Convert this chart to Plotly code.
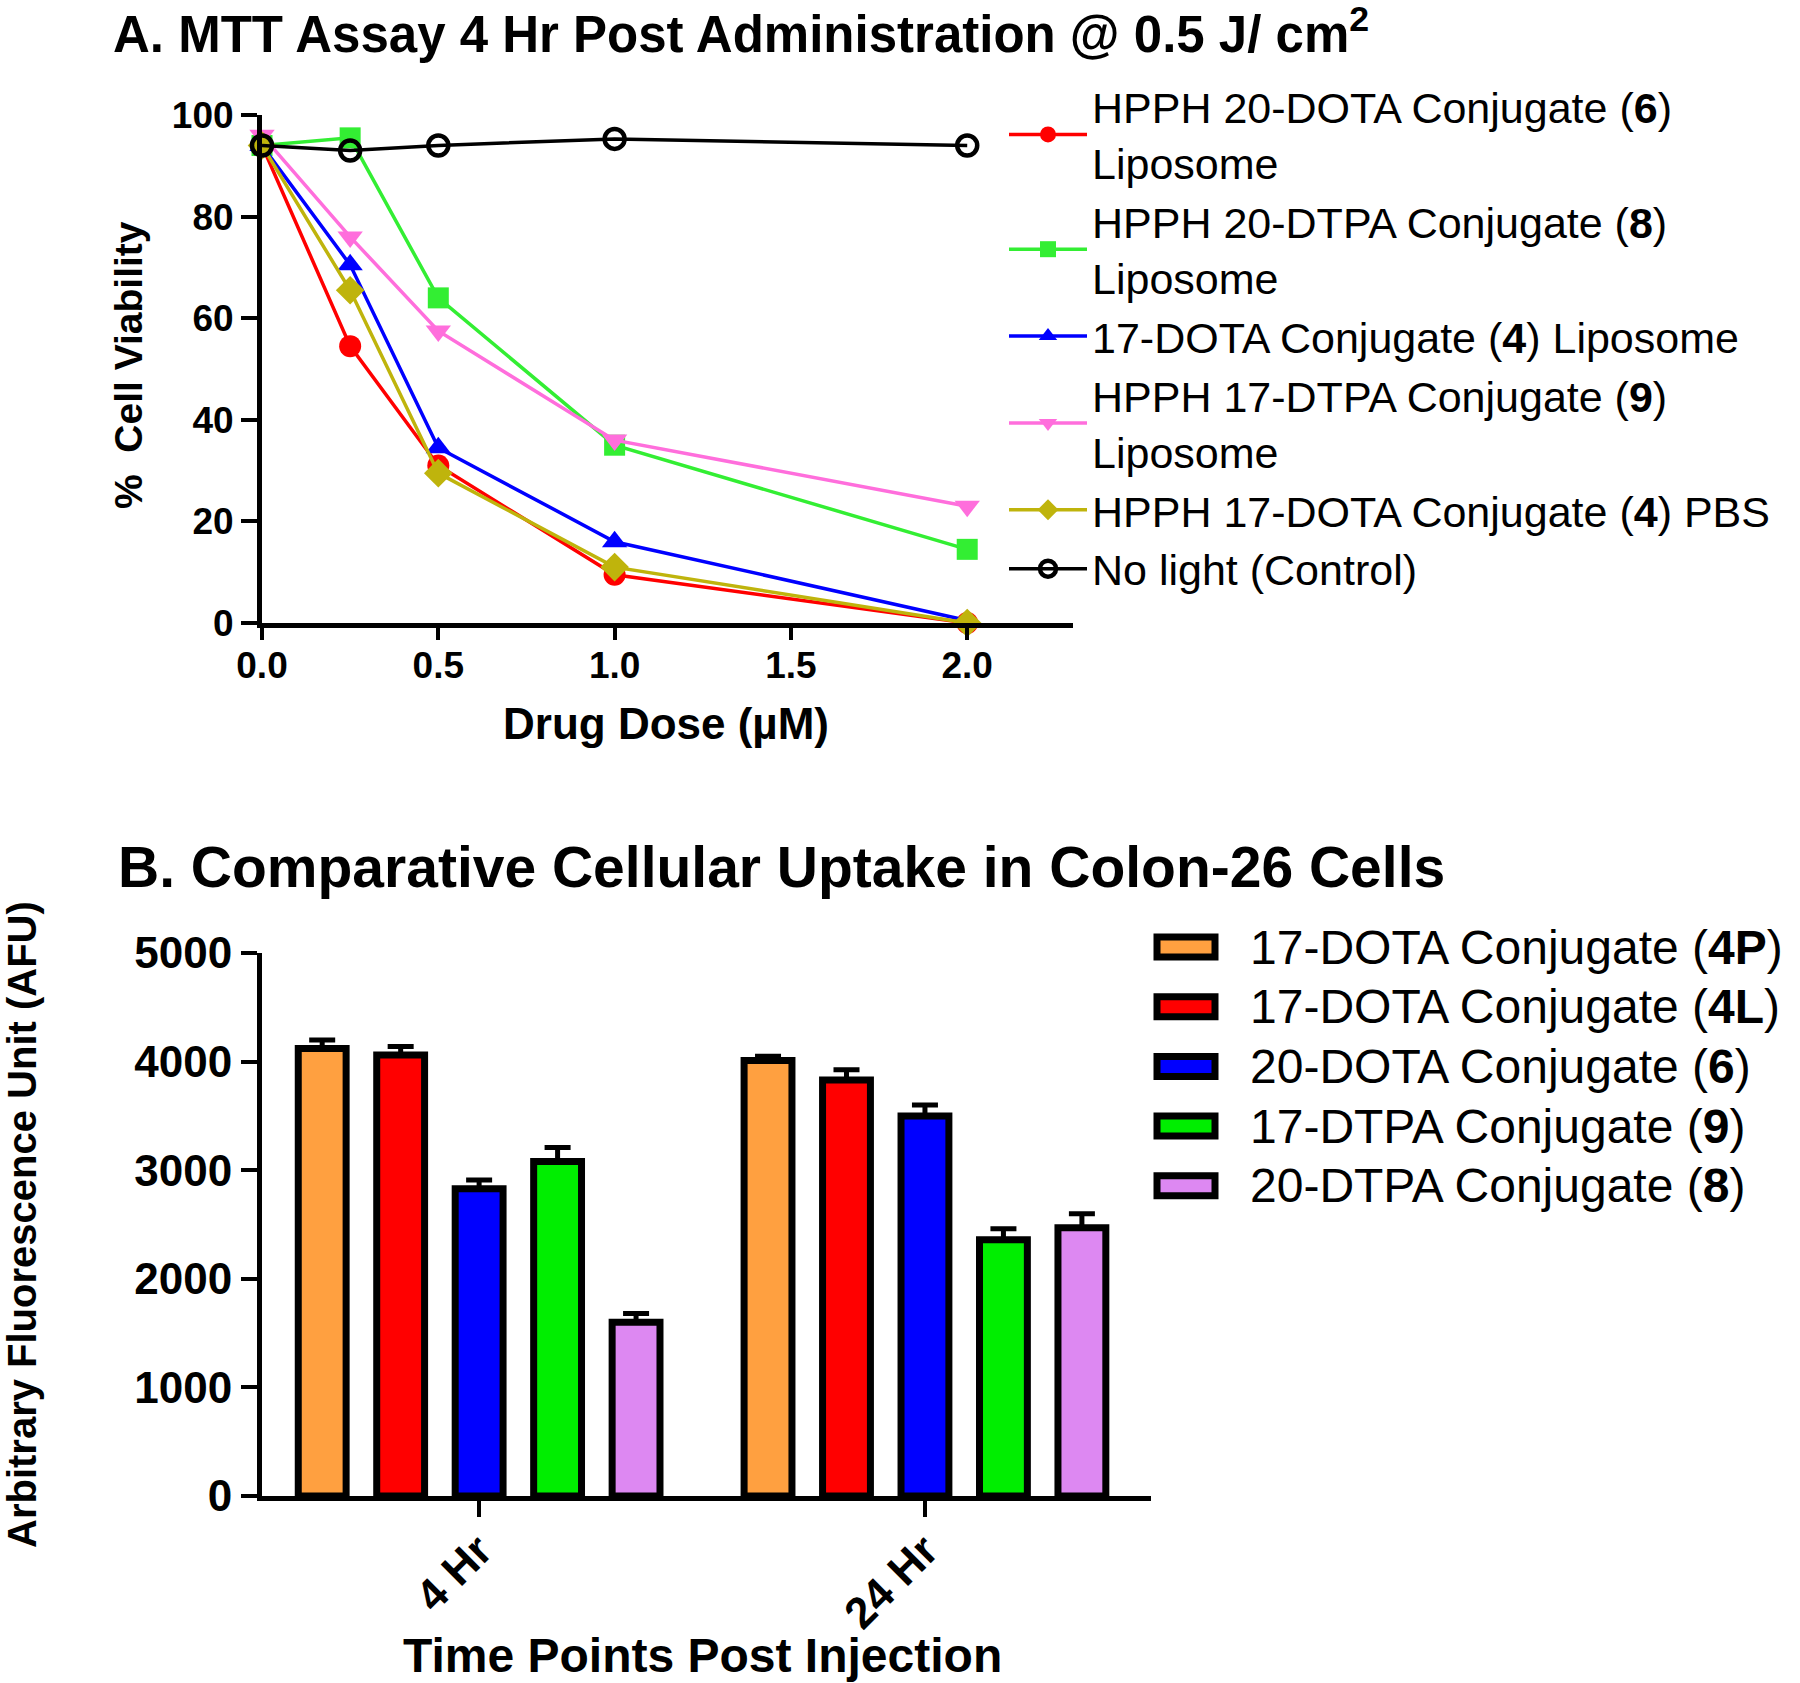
import plotly.graph_objects as go

# ---------------- Panel A data ----------------
doses = [0, 0.25, 0.5, 1.0, 2.0]
mtt_names = [
    "HPPH 20-DOTA Conjugate (<b>6</b>)<br>Liposome",
    "HPPH 20-DTPA Conjugate (<b>8</b>)<br>Liposome",
    "17-DOTA Conjugate (<b>4</b>) Liposome",
    "HPPH 17-DTPA Conjugate (<b>9</b>)<br>Liposome",
    "HPPH 17-DOTA Conjugate (<b>4</b>) PBS",
    "No light (Control)",
]
v_20dota_lip = [94, 54.5, 31, 9.5, 0]
v_20dtpa_lip = [94, 95.5, 64, 35, 14.5]
v_17dota_lip = [94, 70.5, 34.5, 16, 0.5]
v_17dtpa_lip = [96, 76, 57.5, 36, 23]
v_17dota_pbs = [94, 65.5, 29.5, 11, 0]
v_control = [94, 93, 94, 95.3, 94]
mtt_values = [v_20dota_lip, v_20dtpa_lip, v_17dota_lip, v_17dtpa_lip, v_17dota_pbs, v_control]
mtt_colors = ["#FF0000", "#33EE33", "#0000FF", "#FF6EDC", "#BFB40C", "#000000"]
mtt_symbols = ["circle", "square", "triangle-up", "triangle-down", "diamond", "circle-open"]
mtt_sizes = [22, 21, 22, 22, 22, 20]

# ---------------- Panel B data ----------------
timepoints = ["4 Hr", "24 Hr"]
uptake_names = [
    "17-DOTA Conjugate (<b>4P</b>)",
    "17-DOTA Conjugate (<b>4L</b>)",
    "20-DOTA Conjugate (<b>6</b>)",
    "17-DTPA Conjugate (<b>9</b>)",
    "20-DTPA Conjugate (<b>8</b>)",
]
u_4p = [4120, 4010]
u_4l = [4060, 3830]
u_6 = [2830, 3500]
u_9 = [3080, 2360]
u_8 = [1600, 2470]
uptake_values = [u_4p, u_4l, u_6, u_9, u_8]
e_4p = [80, 40]
e_4l = [80, 95]
e_6 = [80, 100]
e_9 = [130, 100]
e_8 = [80, 130]
uptake_err = [e_4p, e_4l, e_6, e_9, e_8]
uptake_colors = ["#FFA040", "#FF0000", "#0000FF", "#00EE00", "#DD88F2"]

W, H = 1800, 1683
FONT = "Liberation Sans, Arial, sans-serif"


def px(x):
    return x / W


def py(y):
    return 1 - y / H


fig = go.Figure()

for name, vals, col, sym, sz in zip(mtt_names, mtt_values, mtt_colors, mtt_symbols, mtt_sizes):
    is_open = sym == "circle-open"
    fig.add_trace(go.Scatter(
        x=doses, y=vals, name=name, mode="lines+markers",
        line=dict(color=col, width=3.5),
        marker=dict(symbol=sym, size=sz, color=col,
                    line=dict(color=col, width=4.5 if is_open else 0)),
        xaxis="x", yaxis="y", legend="legend", cliponaxis=False,
    ))

for name, vals, err, col in zip(uptake_names, uptake_values, uptake_err, uptake_colors):
    fig.add_trace(go.Bar(
        x=timepoints, y=vals, name=name, showlegend=False,
        marker=dict(color=col, line=dict(color="#000000", width=7)),
        error_y=dict(type="data", array=err, arrayminus=[0] * len(err), symmetric=False,
                     color="#000000", thickness=5, width=13),
        xaxis="x2", yaxis="y2",
    ))

axis_common = dict(
    showline=True, linecolor="#000000", linewidth=5,
    ticks="outside", tickcolor="#000000", tickwidth=4,
    showgrid=False, zeroline=False, automargin=False,
)

# ---- manual legend for panel B (large outlined swatches like the original) ----
legB_x0, legB_x1 = 1157, 1215
legB_text_x = 1248
legB_y0, legB_step = 947, 59.7
shapes = []
annotations = []
for i, (name, col) in enumerate(zip(uptake_names, uptake_colors)):
    yc = legB_y0 + i * legB_step
    shapes.append(dict(type="rect", xref="paper", yref="paper",
                       x0=px(legB_x0), x1=px(legB_x1), y0=py(yc + 10), y1=py(yc - 10),
                       fillcolor=col, line=dict(color="#000000", width=7), layer="above"))
    annotations.append(dict(text=name, x=px(legB_text_x), y=py(yc), xref="paper", yref="paper",
                            xanchor="left", yanchor="middle", showarrow=False,
                            font=dict(family=FONT, size=48, color="#000000")))

annotations += [
    dict(text="A. MTT Assay 4 Hr Post Administration @ 0.5 J/ cm<sup>2</sup>",
         x=px(111), y=py(31), xref="paper", yref="paper", xanchor="left", yanchor="middle",
         showarrow=False, font=dict(family=FONT, size=51, color="#000000", weight="bold")),
    dict(text="B. Comparative Cellular Uptake in Colon-26 Cells",
         x=px(116), y=py(867), xref="paper", yref="paper", xanchor="left", yanchor="middle",
         showarrow=False, font=dict(family=FONT, size=57, color="#000000", weight="bold")),
    dict(text="%  Cell Viability", textangle=-90,
         x=px(129), y=py(365), xref="paper", yref="paper", xanchor="center", yanchor="middle",
         showarrow=False, font=dict(family=FONT, size=39, color="#000000", weight="bold")),
    dict(text="Drug Dose (µM)",
         x=px(666), y=py(723), xref="paper", yref="paper", xanchor="center", yanchor="middle",
         showarrow=False, font=dict(family=FONT, size=44, color="#000000", weight="bold")),
    dict(text="Arbitrary Fluorescence Unit (AFU)", textangle=-90,
         x=px(22), y=py(1225), xref="paper", yref="paper", xanchor="center", yanchor="middle",
         showarrow=False, font=dict(family=FONT, size=40, color="#000000", weight="bold")),
    dict(text="Time Points Post Injection",
         x=px(702), y=py(1655), xref="paper", yref="paper", xanchor="center", yanchor="middle",
         showarrow=False, font=dict(family=FONT, size=48, color="#000000", weight="bold")),
]

tickA = dict(family=FONT, size=37, color="#000000", weight="bold")
tickB = dict(family=FONT, size=44, color="#000000", weight="bold")

fig.update_layout(
    width=W, height=H,
    margin=dict(l=0, r=0, t=0, b=0, autoexpand=False),
    paper_bgcolor="#FFFFFF", plot_bgcolor="#FFFFFF",
    font=dict(family=FONT, color="#000000"),
    barmode="group", bargap=0.12, bargroupgap=0.39,
    xaxis=dict(domain=[px(262), px(1073)], range=[0, 2.3], anchor="y",
               tickvals=[0, 0.5, 1.0, 1.5, 2.0], tickformat=".1f", tickfont=tickA,
               ticklen=12, ticklabelstandoff=-6,
               **axis_common),
    yaxis=dict(domain=[py(623), py(115)], range=[0, 100], anchor="x",
               tickvals=[0, 20, 40, 60, 80, 100], tickfont=tickA, ticklen=16,
               **axis_common),
    xaxis2=dict(domain=[px(262), px(1151)], range=[-0.487, 1.507], anchor="y2",
                tickangle=-45, tickfont=tickB, ticklen=16, ticklabelstandoff=-10,
                **axis_common),
    yaxis2=dict(domain=[py(1496), py(953)], range=[0, 5000], anchor="x2",
                tickvals=[0, 1000, 2000, 3000, 4000, 5000], tickfont=tickB, ticklen=16,
                **axis_common),
    legend=dict(x=px(1004), y=py(72), xanchor="left", yanchor="top",
                font=dict(family=FONT, size=43, color="#000000"),
                bgcolor="rgba(0,0,0,0)", itemwidth=78),
    shapes=shapes,
    annotations=annotations,
)

fig.write_html("out.html", config={"displayModeBar": False},
               post_script="document.body.style.margin='0px';")
